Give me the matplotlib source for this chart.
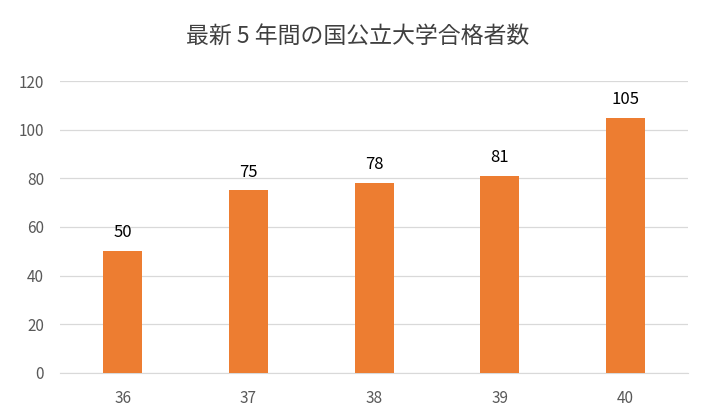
import matplotlib
matplotlib.use('Agg')
import matplotlib.pyplot as plt

plt.rcParams['font.family'] = ['Noto Sans CJK JP', 'DejaVu Sans']

years = ['36', '37', '38', '39', '40']
counts = [50, 75, 78, 81, 105]
yticks = [0, 20, 40, 60, 80, 100, 120]

fig = plt.figure(figsize=(7.16, 4.18), dpi=100)
ax = fig.add_axes([0.0838, 0.1077, 0.8772, 0.6985])

x = range(len(years))
bars = ax.bar(x, counts, width=0.31, color='#ED7D31', zorder=3)
for b, v in zip(bars, counts):
    ax.annotate(str(v), (b.get_x() + b.get_width() / 2, v), xytext=(0, 10),
                textcoords='offset points', ha='center', va='baseline',
                fontsize=12, color='black')

ax.set_xlim(-0.5, len(years) - 0.5)
ax.set_ylim(0, 120)
ax.set_yticks(yticks)
ax.set_xticks(list(x))
ax.set_xticklabels(years)
ax.grid(axis='y', color='#d9d9d9', linewidth=0.9, zorder=0)
for s in ['top', 'right', 'left']:
    ax.spines[s].set_visible(False)
ax.spines['bottom'].set_color('#d9d9d9')
ax.tick_params(length=0, labelsize=11, colors='#595959')
ax.tick_params(axis='x', pad=12)
ax.tick_params(axis='y', pad=11.5)

fig.text(0.5, 0.914, '最新 5 年間の国公立大学合格者数', ha='center', va='center',
         fontsize=16.5, color='#404040')

fig.savefig('out.png', dpi=100)
